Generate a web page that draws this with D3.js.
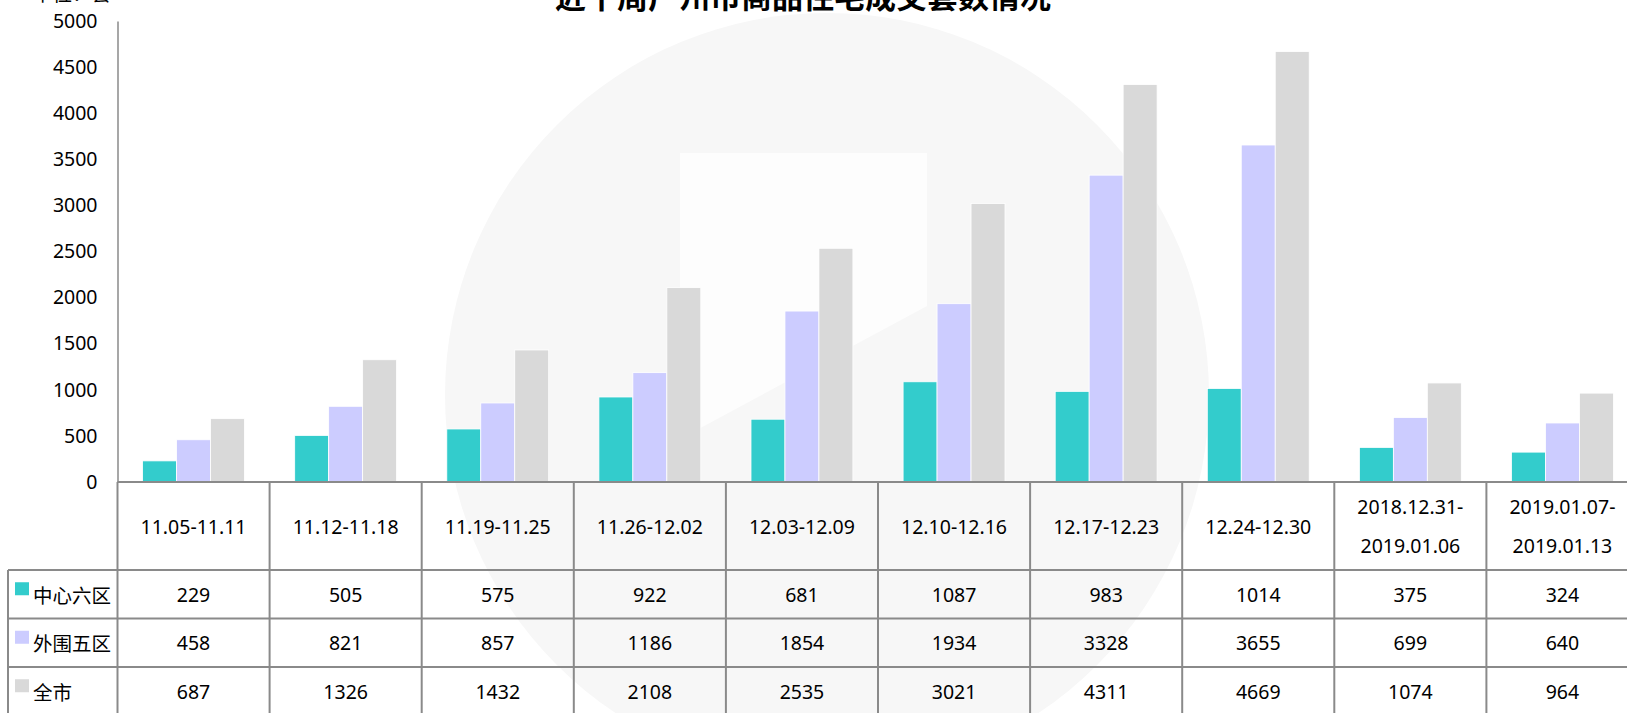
<!DOCTYPE html>
<html>
<head>
<meta charset="utf-8">
<script src="https://cdn.jsdelivr.net/npm/d3@7"></script>
<style>
  body { margin: 0; background: #fff; }
  svg { display: block; font-family: "Noto Sans", "Noto Sans CJK SC", sans-serif; }
</style>
</head>
<body>
<div id="chart"></div>
<script>
/* chart data */
var categories = ["11.05-11.11", "11.12-11.18", "11.19-11.25", "11.26-12.02", "12.03-12.09",
                  "12.10-12.16", "12.17-12.23", "12.24-12.30", "2018.12.31-\n2019.01.06", "2019.01.07-\n2019.01.13"]
var center6 = [229, 505, 575, 922, 681, 1087, 983, 1014, 375, 324]
var outer5 = [458, 821, 857, 1186, 1854, 1934, 3328, 3655, 699, 640]
var wholeCity = [687, 1326, 1432, 2108, 2535, 3021, 4311, 4669, 1074, 964]
var seriesNames = ["中心六区", "外围五区", "全市"]
var seriesColors = ["#33CCCC", "#CCCCFF", "#D9D9D9"]
var yTicks = [0, 500, 1000, 1500, 2000, 2500, 3000, 3500, 4000, 4500, 5000]

var title = "近十周广州市商品住宅成交套数情况"
var unitLabel = "单位：套"

/* layout */
var width = 1627, height = 713
var layout = {
  left: 117.5,
  colW: 152.1,
  top: 21,
  base: 482,
  headerBottom: 570,
  rowH: 48.5,
  tableLeft: 8,
  lineColor: "#8a8a8a",
  fontSize: 19.5
}

var series = [center6, outer5, wholeCity]
var rows = seriesNames.map(function(name, i) {
  return { name: name, color: seriesColors[i], values: series[i] }
})

var right = layout.left + layout.colW * categories.length

var svg = d3.select("#chart").append("svg")
    .attr("width", width)
    .attr("height", height)

/* faint round watermark behind everything */
var wm = svg.append("g").attr("class", "watermark")
wm.append("circle")
    .attr("cx", 827).attr("cy", 395).attr("r", 382)
    .attr("fill", "#f7f7f7")
wm.append("polygon")
    .attr("points", "680,153 927,153 927,306 680,439")
    .attr("fill", "#fdfdfd")

/* scales */
var y = d3.scaleLinear().domain([0, 5000]).range([layout.base, layout.top])

var x0 = d3.scaleBand()
    .domain(categories)
    .range([layout.left, right])
    .paddingInner(0.33)
    .paddingOuter(0.165)

var x1 = d3.scaleBand()
    .domain(seriesNames)
    .range([0, x0.bandwidth()])

var col = function(d) { return x0(d) - x0.step() * x0.paddingInner() / 2 }
var colCenter = function(d) { return x0(d) + x0.bandwidth() / 2 }

/* bars */
svg.append("g").attr("class", "bars")
  .selectAll("g")
  .data(categories)
  .enter()
  .append("g")
    .attr("transform", function(d) { return "translate(" + x0(d) + ",0)" })
  .selectAll("rect")
  .data(function(d, i) {
    return rows.map(function(r) { return { name: r.name, color: r.color, value: r.values[i] } })
  })
  .enter()
  .append("rect")
    .attr("x", function(d) { return x1(d.name) })
    .attr("width", x1.bandwidth())
    .attr("y", function(d) { return y(d.value) })
    .attr("height", function(d) { return layout.base - y(d.value) })
    .attr("fill", function(d) { return d.color })
    .attr("stroke", "#ffffff")
    .attr("stroke-width", 0.8)

/* y axis */
var yAxis = svg.append("g")
    .attr("transform", "translate(" + layout.left + ",0)")
    .call(d3.axisLeft(y).tickValues(yTicks).tickFormat(d3.format("d"))
      .tickSize(0).tickSizeOuter(0).tickPadding(20))
yAxis.select(".domain").attr("stroke", layout.lineColor).attr("stroke-width", 1.5)
yAxis.selectAll("text")
    .attr("font-size", layout.fontSize)
    .attr("fill", "#000")
    .style("font-family", "'Noto Sans', sans-serif")

/* title and unit (cut by the top edge like the original) */
svg.append("text")
    .attr("x", 803).attr("y", 8)
    .attr("text-anchor", "middle")
    .attr("font-size", 31)
    .attr("font-weight", 700)
    .style("font-family", "'Noto Sans CJK SC', sans-serif")
    .text(title)

svg.append("text")
    .attr("x", 33).attr("y", 1)
    .attr("font-size", layout.fontSize)
    .style("font-family", "'Noto Sans CJK SC', sans-serif")
    .text(unitLabel)

/* data table under the plot */
var table = svg.append("g").attr("class", "table")
var tableBottom = layout.headerBottom + layout.rowH * rows.length

// horizontal lines
table.append("line")
    .attr("x1", layout.left).attr("x2", right)
    .attr("y1", layout.base).attr("y2", layout.base)
table.selectAll(".hline")
  .data(d3.range(rows.length))
  .enter()
  .append("line")
    .attr("class", "hline")
    .attr("x1", layout.tableLeft).attr("x2", right)
    .attr("y1", function(i) { return layout.headerBottom + i * layout.rowH })
    .attr("y2", function(i) { return layout.headerBottom + i * layout.rowH })

// vertical lines
table.selectAll(".vline")
  .data(categories)
  .enter()
  .append("line")
    .attr("class", "vline")
    .attr("x1", col).attr("x2", col)
    .attr("y1", layout.base).attr("y2", tableBottom)
table.append("line")
    .attr("x1", right).attr("x2", right)
    .attr("y1", layout.base).attr("y2", tableBottom)
table.append("line")
    .attr("x1", layout.tableLeft).attr("x2", layout.tableLeft)
    .attr("y1", layout.headerBottom).attr("y2", tableBottom)

table.selectAll("line")
    .attr("stroke", layout.lineColor)
    .attr("stroke-width", 2)

// header labels
table.selectAll(".cat")
  .data(categories)
  .enter()
  .append("text")
    .attr("class", "cat")
    .attr("text-anchor", "middle")
    .attr("font-size", layout.fontSize)
    .each(function(d) {
      var lines = d.split("\n")
      var mid = (layout.base + layout.headerBottom) / 2
      var lh = 39
      d3.select(this).selectAll("tspan")
        .data(lines)
        .enter()
        .append("tspan")
          .attr("x", colCenter(d))
          .attr("y", function(l, j) { return mid + (j - (lines.length - 1) / 2) * lh })
          .attr("dominant-baseline", "central")
          .text(function(l) { return l })
    })

// rows: legend key + values
var rowG = table.selectAll(".row")
  .data(rows)
  .enter()
  .append("g")
    .attr("class", "row")
    .attr("transform", function(d, i) {
      return "translate(0," + (layout.headerBottom + (i + 0.5) * layout.rowH) + ")"
    })

rowG.append("rect")
    .attr("x", 15).attr("y", -12)
    .attr("width", 14).attr("height", 13)
    .attr("fill", function(d) { return d.color })

rowG.append("text")
    .attr("x", 33)
    .attr("dominant-baseline", "central")
    .attr("font-size", layout.fontSize)
    .style("font-family", "'Noto Sans CJK SC', sans-serif")
    .text(function(d) { return d.name })

rowG.selectAll(".val")
  .data(function(d) { return d.values })
  .enter()
  .append("text")
    .attr("class", "val")
    .attr("x", function(v, i) { return colCenter(categories[i]) })
    .attr("text-anchor", "middle")
    .attr("dominant-baseline", "central")
    .attr("font-size", layout.fontSize)
    .text(function(v) { return v })
</script>
</body>
</html>
